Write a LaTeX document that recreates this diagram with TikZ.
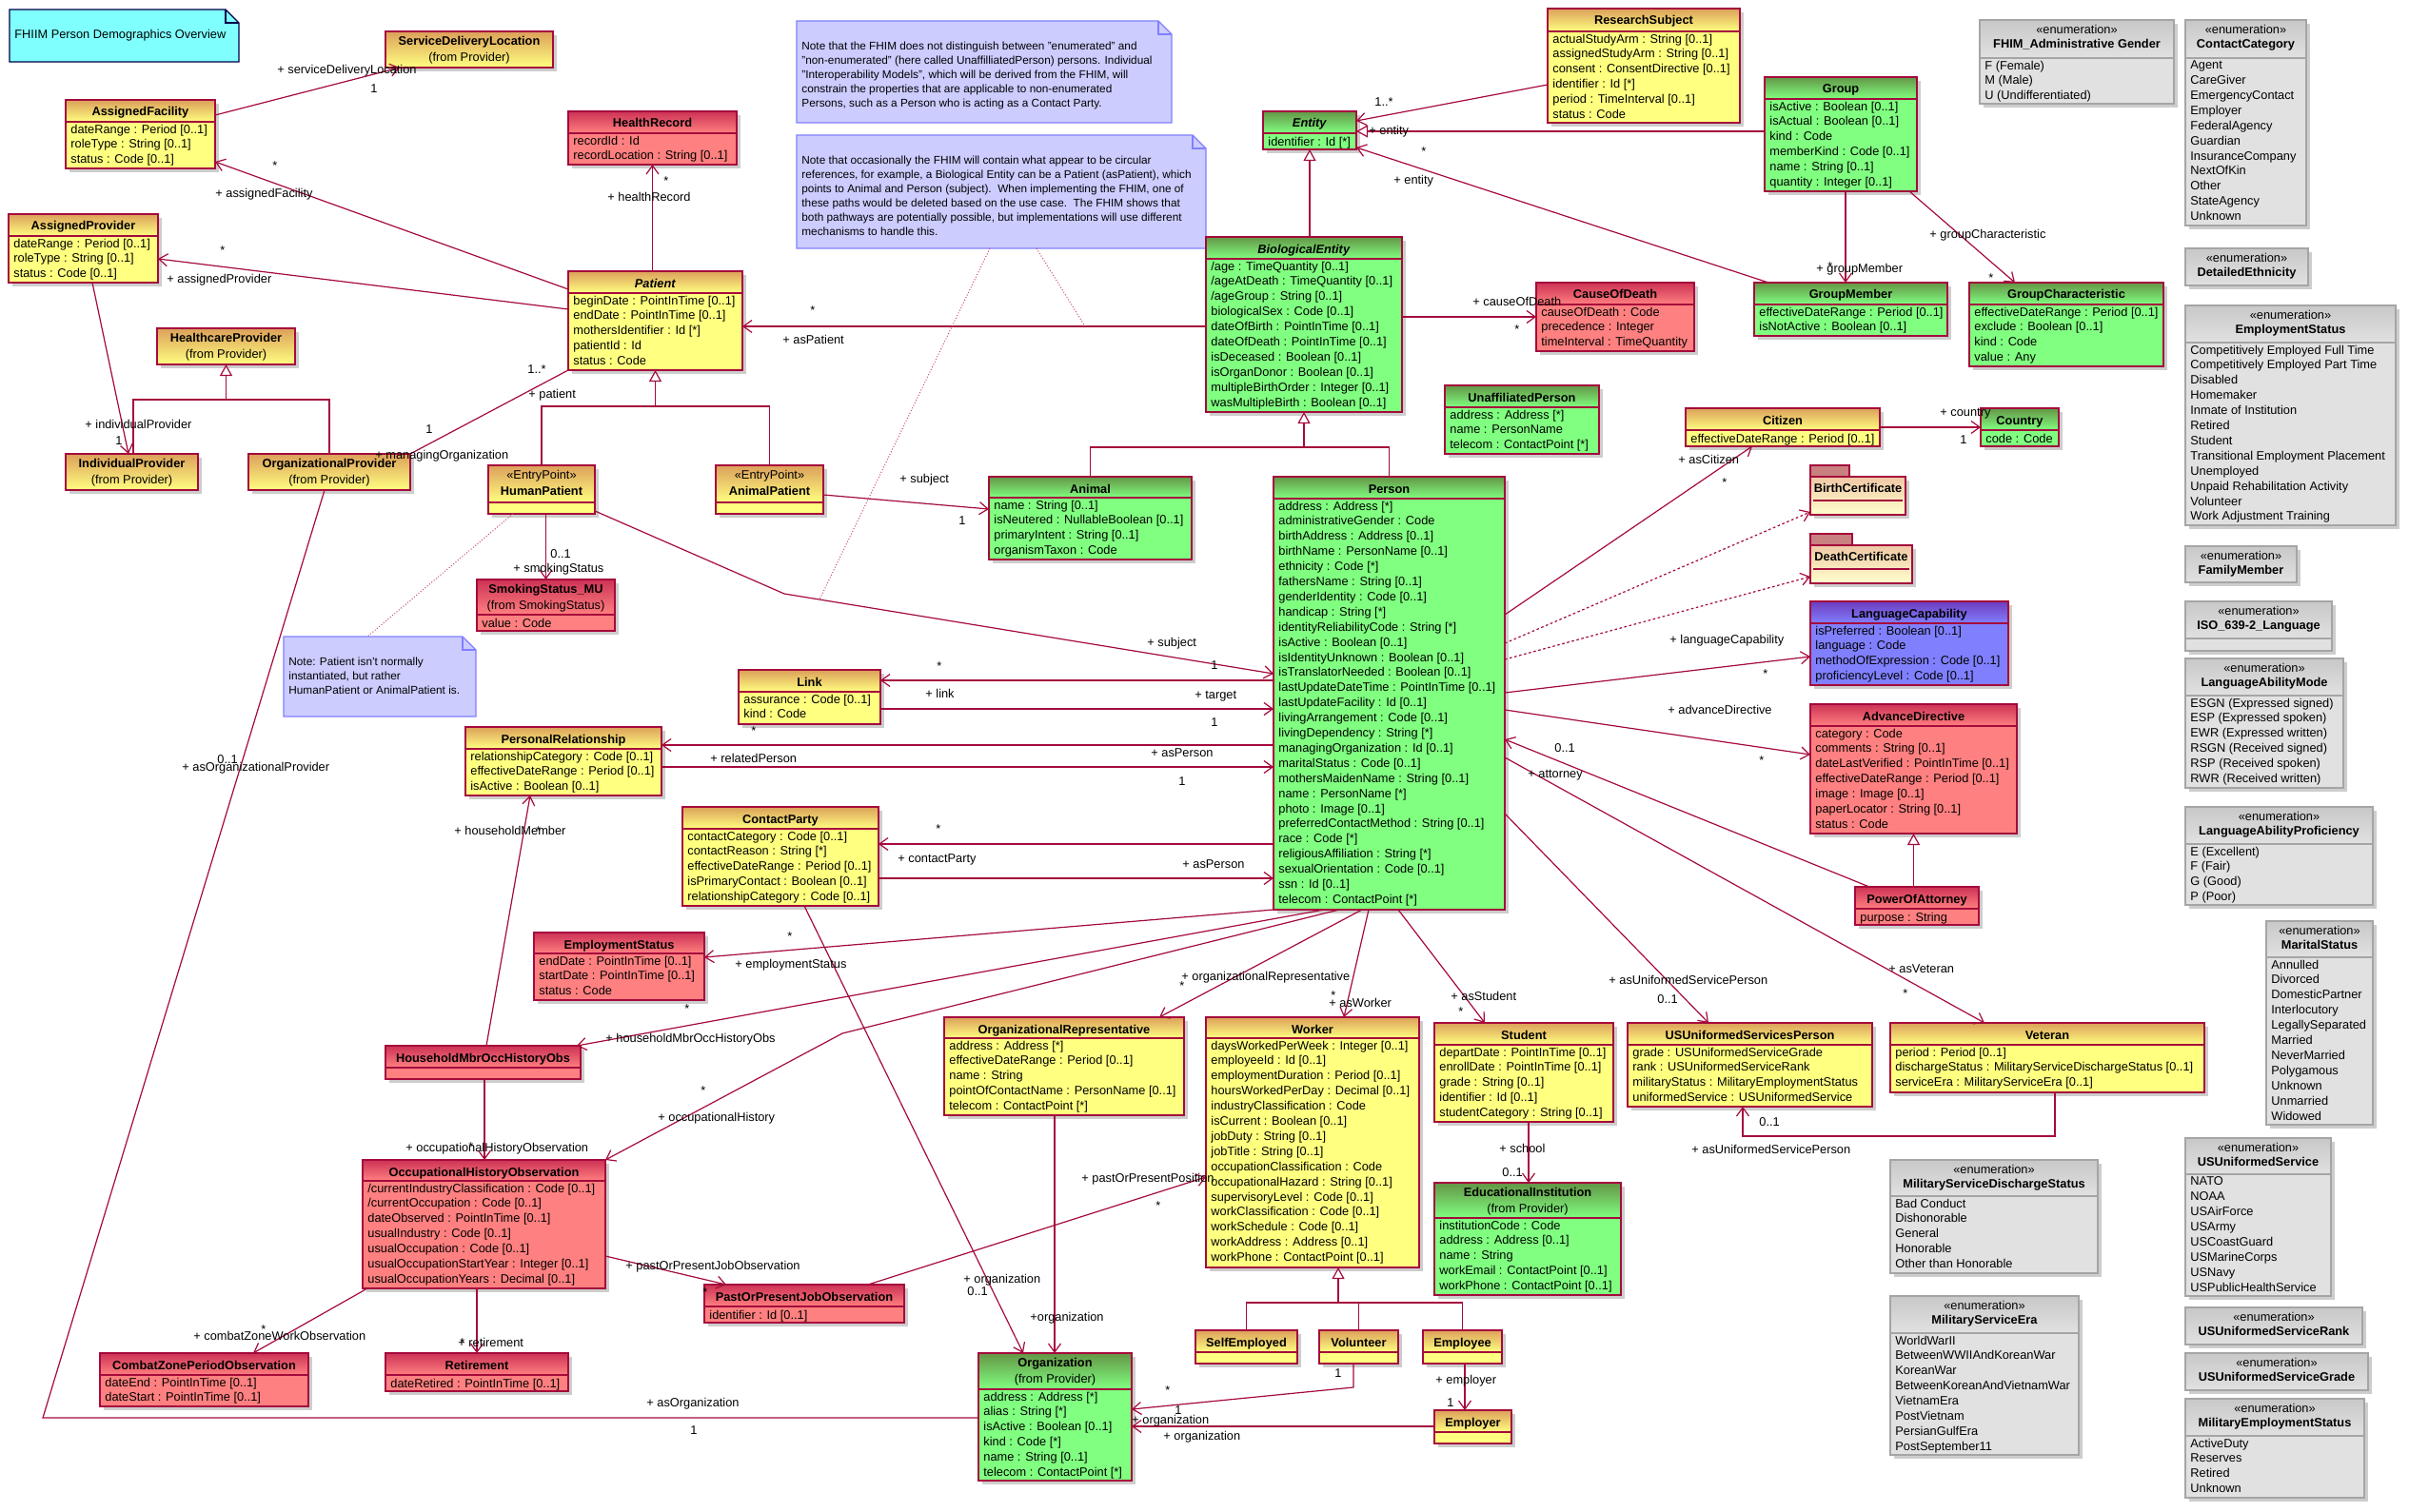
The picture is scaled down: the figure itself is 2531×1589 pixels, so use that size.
\documentclass[tikz,border=0pt]{standalone}
\usepackage{fontspec}
\setmainfont{Liberation Sans}
\usetikzlibrary{arrows.meta,calc}
\definecolor{lc}{RGB}{165,10,60}
\definecolor{shadowc}{RGB}{205,205,205}
\definecolor{Ytop}{RGB}{220,160,90}\definecolor{Ybody}{RGB}{255,255,128}\colorlet{Ybrd}{lc}
\definecolor{Gtop}{RGB}{100,150,70}\definecolor{Gbody}{RGB}{128,255,128}\colorlet{Gbrd}{lc}
\definecolor{Rtop}{RGB}{205,50,85}\definecolor{Rbody}{RGB}{255,128,128}\colorlet{Rbrd}{lc}
\definecolor{Btop}{RGB}{110,60,190}\definecolor{Bbody}{RGB}{128,128,255}\colorlet{Bbrd}{lc}
\definecolor{Etop}{RGB}{200,200,200}\definecolor{Ebody}{RGB}{225,225,225}\definecolor{Ebrd}{RGB}{165,165,165}
\definecolor{notefill}{RGB}{204,204,255}\definecolor{notebrd}{RGB}{128,128,255}
\definecolor{titlefill}{RGB}{128,255,255}\definecolor{titlebrd}{RGB}{0,0,70}
\definecolor{notelc}{RGB}{200,70,110}
\definecolor{tabc}{RGB}{200,128,128}\definecolor{certtop}{RGB}{240,200,165}\definecolor{certbot}{RGB}{255,255,205}
\newcounter{lblc}
\newcommand\umlc[9]{%
  \fill[shadowc] (#2+4,#3+4) rectangle (#2+#4+4,#3+#5+4);
  \node[inner sep=0pt,outer sep=0pt,minimum width=#4*0.5pt,minimum height=#5*0.5pt,anchor=north west,fill=#7body] (#1) at (#2,#3) {};
  \shade[top color=#7top,bottom color=#7body] (#1.north west) rectangle ($(#1.north west)+(#4,#6)$);
  \draw[#7brd,line width=0.6pt] ($(#1.north west)+(0,#6)$) -- ++(#4,0);
  \draw[#7brd,line width=0.7pt] (#1.north west) rectangle (#1.south east);
  \node[ttl,anchor=north] (#1-t) at ($(#1.north)+(0,4.7)$) {#8};
  \node[atr,anchor=north west] (#1-a) at ($(#1.north west)+(5,#6+2.4)$) {#9};
}
\newcommand\umlnote[6]{%
  \node[inner sep=0pt,outer sep=0pt,minimum width=#4*0.5pt,minimum height=#5*0.5pt,anchor=north west] (#1) at (#2,#3) {};
  \filldraw[fill=notefill,draw=notebrd,line width=0.6pt] (#1.north west) -- ($(#1.north east)+(-14,0)$) -- ($(#1.north east)+(0,14)$) -- (#1.south east) -- (#1.south west) -- cycle;
  \draw[notebrd,line width=0.6pt] ($(#1.north east)+(-14,0)$) -- ($(#1.north east)+(-14,14)$) -- ($(#1.north east)+(0,14)$);
  \node[notetxt,anchor=north west] (#1-x) at ($(#1.north west)+(5,22.0)$) {#6};
}
\newcommand\lab[3]{\stepcounter{lblc}\node[lbl] (lbl\arabic{lblc}) at (#1,#2+4.6) {#3};}
\begin{document}
\begin{tikzpicture}[x=0.5pt,y=-0.5pt,
  ttl/.style={font=\fontsize{6.4}{8.5}\selectfont,align=center,inner sep=0pt,execute at begin node=\strut},
  atr/.style={font=\fontsize{6.4}{7.95}\selectfont,align=left,inner sep=0pt,execute at begin node=\strut},
  notetxt/.style={font=\fontsize{5.9}{7.5}\selectfont,align=left,inner sep=0pt,execute at begin node=\strut},
  lbl/.style={font=\fontsize{6.4}{8}\selectfont,inner sep=0pt,anchor=base west},
  conn/.style={draw=lc,line width=0.6pt},
  nav/.style={conn,-{Straight Barb[length=4.5pt,width=6.5pt]}},
  gen/.style={conn,-{Triangle[open,length=6pt,width=6.5pt,fill=white]}},
  dep/.style={nav,dash pattern=on 1.3pt off 1.3pt},
  notelink/.style={draw=notelc,line width=0.5pt,densely dotted}]
\fill[white] (0,0) rectangle (2531,1589);
\useasboundingbox (0,0) rectangle (2531,1589);

% title note
\node[inner sep=0pt,outer sep=0pt,minimum width=241*0.5pt,minimum height=55*0.5pt,anchor=north west] (ttlnote) at (10,10) {};
\filldraw[fill=titlefill,draw=titlebrd,line width=0.6pt] (ttlnote.north west) -- ($(ttlnote.north east)+(-14,0)$) -- ($(ttlnote.north east)+(0,14)$) -- (ttlnote.south east) -- (ttlnote.south west) -- cycle;
\draw[titlebrd,line width=0.6pt] ($(ttlnote.north east)+(-14,0)$) -- ($(ttlnote.north east)+(-14,14)$) -- ($(ttlnote.north east)+(0,14)$);
\node[lbl] (ttltext) at (15,40.6) {FHIIM Person Demographics Overview};

% notes
\umlnote{n1}{837}{22}{394}{107}{Note that the FHIM does not distinguish between "enumerated" and\\"non-enumerated" (here called UnaffilliatedPerson) persons. Individual\\"Interoperability Models", which will be derived from the FHIM, will\\constrain the properties that are applicable to non-enumerated\\Persons, such as a Person who is acting as a Contact Party.}
\umlnote{n2}{837}{142}{430}{119}{Note that occasionally the FHIM will contain what appear to be circular\\references, for example, a Biological Entity can be a Patient (asPatient), which\\points to Animal and Person (subject).\ \ When implementing the FHIM, one of\\these paths would be deleted based on the use case.\ \ The FHIM shows that\\both pathways are potentially possible, but implementations will use different\\mechanisms to handle this.}
\umlnote{n3}{298}{669}{202}{84}{Note: Patient isn't normally\\instantiated, but rather\\HumanPatient or AnimalPatient is.}

% yellow classes
\umlc{sdl}{405}{33}{176}{38}{38}{Y}{\textbf{ServiceDeliveryLocation}\\(from Provider)}{}
\umlc{af}{69}{105}{157}{72}{23}{Y}{\textbf{AssignedFacility}}{dateRange : Period [0..1]\\roleType : String [0..1]\\status : Code [0..1]}
\umlc{ap}{9}{225}{157}{72}{23}{Y}{\textbf{AssignedProvider}}{dateRange : Period [0..1]\\roleType : String [0..1]\\status : Code [0..1]}
\umlc{hcp}{165}{345}{145}{38}{38}{Y}{\textbf{HealthcareProvider}\\(from Provider)}{}
\umlc{ip}{69}{477}{139}{38}{38}{Y}{\textbf{IndividualProvider}\\(from Provider)}{}
\umlc{op}{261}{477}{170}{38}{38}{Y}{\textbf{OrganizationalProvider}\\(from Provider)}{}
\umlc{hp}{513}{489}{112}{51}{39}{Y}{«EntryPoint»\\\textbf{HumanPatient}}{}
\umlc{pat}{597}{285}{183}{104}{23}{Y}{\textbf{\textit{Patient}}}{beginDate : PointInTime [0..1]\\endDate : PointInTime [0..1]\\mothersIdentifier : Id [*]\\patientId : Id\\status : Code}
\umlc{anp}{752}{489}{113}{51}{39}{Y}{«EntryPoint»\\\textbf{AnimalPatient}}{}
\umlc{rs}{1626}{9}{202}{120}{24}{Y}{\textbf{ResearchSubject}}{actualStudyArm : String [0..1]\\assignedStudyArm : String [0..1]\\consent : ConsentDirective [0..1]\\identifier : Id [*]\\period : TimeInterval [0..1]\\status : Code}
\umlc{cit}{1771}{429}{204}{40}{23}{Y}{\textbf{Citizen}}{effectiveDateRange : Period [0..1]}
\umlc{link}{776}{704}{149}{57}{23}{Y}{\textbf{Link}}{assurance : Code [0..1]\\kind : Code}
\umlc{pr}{489}{764}{206}{72}{23}{Y}{\textbf{PersonalRelationship}}{relationshipCategory : Code [0..1]\\effectiveDateRange : Period [0..1]\\isActive : Boolean [0..1]}
\umlc{cp}{717}{848}{206}{104}{23}{Y}{\textbf{ContactParty}}{contactCategory : Code [0..1]\\contactReason : String [*]\\effectiveDateRange : Period [0..1]\\isPrimaryContact : Boolean [0..1]\\relationshipCategory : Code [0..1]}
\umlc{orgrep}{992}{1069}{252}{103}{22}{Y}{\textbf{OrganizationalRepresentative}}{address : Address [*]\\effectiveDateRange : Period [0..1]\\name : String\\pointOfContactName : PersonName [0..1]\\telecom : ContactPoint [*]}
\umlc{worker}{1267}{1069}{224}{263}{22}{Y}{\textbf{Worker}}{daysWorkedPerWeek : Integer [0..1]\\employeeId : Id [0..1]\\employmentDuration : Period [0..1]\\hoursWorkedPerDay : Decimal [0..1]\\industryClassification : Code\\isCurrent : Boolean [0..1]\\jobDuty : String [0..1]\\jobTitle : String [0..1]\\occupationClassification : Code\\occupationalHazard : String [0..1]\\supervisoryLevel : Code [0..1]\\workClassification : Code [0..1]\\workSchedule : Code [0..1]\\workAddress : Address [0..1]\\workPhone : ContactPoint [0..1]}
\umlc{stu}{1507}{1075}{188}{104}{23}{Y}{\textbf{Student}}{departDate : PointInTime [0..1]\\enrollDate : PointInTime [0..1]\\grade : String [0..1]\\identifier : Id [0..1]\\studentCategory : String [0..1]}
\umlc{ususp}{1710}{1075}{257}{88}{23}{Y}{\textbf{USUniformedServicesPerson}}{grade : USUniformedServiceGrade\\rank : USUniformedServiceRank\\militaryStatus : MilitaryEmploymentStatus\\uniformedService : USUniformedService}
\umlc{vet}{1986}{1075}{330}{73}{23}{Y}{\textbf{Veteran}}{period : Period [0..1]\\dischargeStatus : MilitaryServiceDischargeStatus [0..1]\\serviceEra : MilitaryServiceEra [0..1]}
\umlc{selfe}{1256}{1398}{107}{35}{23}{Y}{\textbf{SelfEmployed}}{}
\umlc{vol}{1386}{1398}{83}{35}{23}{Y}{\textbf{Volunteer}}{}
\umlc{emp}{1495}{1398}{83}{35}{23}{Y}{\textbf{Employee}}{}
\umlc{empr}{1507}{1482}{81}{35}{23}{Y}{\textbf{Employer}}{}

% green classes
\umlc{ent}{1327}{117}{98}{40}{23}{G}{\textbf{\textit{Entity}}}{identifier : Id [*]}
\umlc{be}{1267}{249}{206}{184}{23}{G}{\textbf{\textit{BiologicalEntity}}}{/age : TimeQuantity [0..1]\\/ageAtDeath : TimeQuantity [0..1]\\/ageGroup : String [0..1]\\biologicalSex : Code [0..1]\\dateOfBirth : PointInTime [0..1]\\dateOfDeath : PointInTime [0..1]\\isDeceased : Boolean [0..1]\\isOrganDonor : Boolean [0..1]\\multipleBirthOrder : Integer [0..1]\\wasMultipleBirth : Boolean [0..1]}
\umlc{grp}{1854}{81}{160}{120}{23}{G}{\textbf{Group}}{isActive : Boolean [0..1]\\isActual : Boolean [0..1]\\kind : Code\\memberKind : Code [0..1]\\name : String [0..1]\\quantity : Integer [0..1]}
\umlc{gm}{1843}{297}{203}{56}{23}{G}{\textbf{GroupMember}}{effectiveDateRange : Period [0..1]\\isNotActive : Boolean [0..1]}
\umlc{gc}{2069}{297}{204}{88}{23}{G}{\textbf{GroupCharacteristic}}{effectiveDateRange : Period [0..1]\\exclude : Boolean [0..1]\\kind : Code\\value : Any}
\umlc{up}{1518}{405}{162}{72}{23}{G}{\textbf{UnaffiliatedPerson}}{address : Address [*]\\name : PersonName\\telecom : ContactPoint [*]}
\umlc{person}{1338}{501}{243}{455}{23}{G}{\textbf{Person}}{address : Address [*]\\administrativeGender : Code\\birthAddress : Address [0..1]\\birthName : PersonName [0..1]\\ethnicity : Code [*]\\fathersName : String [0..1]\\genderIdentity : Code [0..1]\\handicap : String [*]\\identityReliabilityCode : String [*]\\isActive : Boolean [0..1]\\isIdentityUnknown : Boolean [0..1]\\isTranslatorNeeded : Boolean [0..1]\\lastUpdateDateTime : PointInTime [0..1]\\lastUpdateFacility : Id [0..1]\\livingArrangement : Code [0..1]\\livingDependency : String [*]\\managingOrganization : Id [0..1]\\maritalStatus : Code [0..1]\\mothersMaidenName : String [0..1]\\name : PersonName [*]\\photo : Image [0..1]\\preferredContactMethod : String [0..1]\\race : Code [*]\\religiousAffiliation : String [*]\\sexualOrientation : Code [0..1]\\ssn : Id [0..1]\\telecom : ContactPoint [*]}
\umlc{animal}{1039}{501}{213}{87}{22}{G}{\textbf{Animal}}{name : String [0..1]\\isNeutered : NullableBoolean [0..1]\\primaryIntent : String [0..1]\\organismTaxon : Code}
\umlc{country}{2081}{429}{82}{40}{23}{G}{\textbf{Country}}{code : Code}
\umlc{org}{1028}{1422}{161}{134}{38}{G}{\textbf{Organization}\\(from Provider)}{address : Address [*]\\alias : String [*]\\isActive : Boolean [0..1]\\kind : Code [*]\\name : String [0..1]\\telecom : ContactPoint [*]}
\umlc{edu}{1507}{1243}{196}{118}{37}{G}{\textbf{EducationalInstitution}\\(from Provider)}{institutionCode : Code\\address : Address [0..1]\\name : String\\workEmail : ContactPoint [0..1]\\workPhone : ContactPoint [0..1]}

% red classes
\umlc{hr}{597}{117}{177}{56}{23}{R}{\textbf{HealthRecord}}{recordId : Id\\recordLocation : String [0..1]}
\umlc{cod}{1614}{297}{166}{72}{23}{R}{\textbf{CauseOfDeath}}{causeOfDeath : Code\\precedence : Integer\\timeInterval : TimeQuantity}
\umlc{smk}{501}{609}{145}{54}{37}{R}{\textbf{SmokingStatus\_MU}\\(from SmokingStatus)}{value : Code}
\umlc{ad}{1902}{740}{217}{136}{23}{R}{\textbf{AdvanceDirective}}{category : Code\\comments : String [0..1]\\dateLastVerified : PointInTime [0..1]\\effectiveDateRange : Period [0..1]\\image : Image [0..1]\\paperLocator : String [0..1]\\status : Code}
\umlc{poa}{1949}{932}{130}{40}{23}{R}{\textbf{PowerOfAttorney}}{purpose : String}
\umlc{es}{561}{980}{179}{71}{22}{R}{\textbf{EmploymentStatus}}{endDate : PointInTime [0..1]\\startDate : PointInTime [0..1]\\status : Code}
\umlc{hm}{405}{1099}{205}{35}{23}{R}{\textbf{HouseholdMbrOccHistoryObs}}{}
\umlc{oho}{381}{1219}{255}{135}{22}{R}{\textbf{OccupationalHistoryObservation}}{/currentIndustryClassification : Code [0..1]\\/currentOccupation : Code [0..1]\\dateObserved : PointInTime [0..1]\\usualIndustry : Code [0..1]\\usualOccupation : Code [0..1]\\usualOccupationStartYear : Integer [0..1]\\usualOccupationYears : Decimal [0..1]}
\umlc{cz}{105}{1422}{219}{56}{23}{R}{\textbf{CombatZonePeriodObservation}}{dateEnd : PointInTime [0..1]\\dateStart : PointInTime [0..1]}
\umlc{ret}{405}{1422}{192}{40}{23}{R}{\textbf{Retirement}}{dateRetired : PointInTime [0..1]}
\umlc{ppj}{740}{1350}{210}{40}{23}{R}{\textbf{PastOrPresentJobObservation}}{identifier : Id [0..1]}

% blue class
\umlc{lc}{1902}{632}{208}{88}{23}{B}{\textbf{LanguageCapability}}{isPreferred : Boolean [0..1]\\language : Code\\methodOfExpression : Code [0..1]\\proficiencyLevel : Code [0..1]}

% enumerations
\umlc{eg}{2080}{21}{204}{88}{40}{E}{«enumeration»\\[-1pt]\textbf{FHIM\_Administrative Gender}}{F (Female)\\M (Male)\\U (Undifferentiated)}
\umlc{ecc}{2296}{21}{127}{216}{40}{E}{«enumeration»\\[-1pt]\textbf{ContactCategory}}{Agent\\CareGiver\\EmergencyContact\\Employer\\FederalAgency\\Guardian\\InsuranceCompany\\NextOfKin\\Other\\StateAgency\\Unknown}
\umlc{ede}{2296}{261}{129}{39}{39}{E}{«enumeration»\\[-1pt]\textbf{DetailedEthnicity}}{}
\umlc{ees}{2296}{321}{221}{231}{39}{E}{«enumeration»\\[-1pt]\textbf{EmploymentStatus}}{Competitively Employed Full Time\\Competitively Employed Part Time\\Disabled\\Homemaker\\Inmate of Institution\\Retired\\Student\\Transitional Employment Placement\\Unemployed\\Unpaid Rehabilitation Activity\\Volunteer\\Work Adjustment Training}
\umlc{efm}{2296}{574}{117}{38}{38}{E}{«enumeration»\\[-1pt]\textbf{FamilyMember}}{}
\umlc{eiso}{2296}{632}{154}{52}{39}{E}{«enumeration»\\[-1pt]\textbf{ISO\_639-2\_Language}}{}
\umlc{elam}{2296}{692}{166}{136}{39}{E}{«enumeration»\\[-1pt]\textbf{LanguageAbilityMode}}{ESGN (Expressed signed)\\ESP (Expressed spoken)\\EWR (Expressed written)\\RSGN (Received signed)\\RSP (Received spoken)\\RWR (Received written)}
\umlc{elap}{2296}{848}{197}{103}{39}{E}{«enumeration»\\[-1pt]\textbf{LanguageAbilityProficiency}}{E (Excellent)\\F (Fair)\\G (Good)\\P (Poor)}
\umlc{ems}{2381}{968}{112}{214}{38}{E}{«enumeration»\\[-1pt]\textbf{MaritalStatus}}{Annulled\\Divorced\\DomesticPartner\\Interlocutory\\LegallySeparated\\Married\\NeverMarried\\Polygamous\\Unknown\\Unmarried\\Widowed}
\umlc{eus}{2296}{1196}{153}{166}{38}{E}{«enumeration»\\[-1pt]\textbf{USUniformedService}}{NATO\\NOAA\\USAirForce\\USArmy\\USCoastGuard\\USMarineCorps\\USNavy\\USPublicHealthService}
\umlc{eur}{2296}{1374}{186}{39}{39}{E}{«enumeration»\\[-1pt]\textbf{USUniformedServiceRank}}{}
\umlc{eug}{2296}{1422}{192}{39}{39}{E}{«enumeration»\\[-1pt]\textbf{USUniformedServiceGrade}}{}
\umlc{emes}{2296}{1470}{188}{104}{39}{E}{«enumeration»\\[-1pt]\textbf{MilitaryEmploymentStatus}}{ActiveDuty\\Reserves\\Retired\\Unknown}
\umlc{emdis}{1986}{1219}{218}{119}{38}{E}{«enumeration»\\[-1pt]\textbf{MilitaryServiceDischargeStatus}}{Bad Conduct\\Dishonorable\\General\\Honorable\\Other than Honorable}
\umlc{emera}{1986}{1362}{198}{167}{39}{E}{«enumeration»\\[-1pt]\textbf{MilitaryServiceEra}}{WorldWarII\\BetweenWWIIAndKoreanWar\\KoreanWar\\BetweenKoreanAndVietnamWar\\VietnamEra\\PostVietnam\\PersianGulfEra\\PostSeptember11}

% certificates
\fill[shadowc] (1906,505) rectangle (2006,545);
\filldraw[fill=tabc,draw=lc,line width=0.6pt] (1902,489) rectangle (1943,501);
\node[inner sep=0pt,outer sep=0pt,minimum width=100*0.5pt,minimum height=40*0.5pt,anchor=north west] (bc) at (1902,501) {};
\shade[top color=certtop,bottom color=certbot] (bc.north west) rectangle (bc.south east);
\draw[lc,line width=0.7pt] (bc.north west) rectangle (bc.south east);
\node[ttl,anchor=north] (bc-t) at ($(bc.north)+(0,4.2)$) {\textbf{BirthCertificate}};
\draw[lc,line width=0.6pt] ($(bc.north west)+(3,25)$) -- ($(bc.north east)+(-3,25)$);
\fill[shadowc] (1906,577) rectangle (2013,617);
\filldraw[fill=tabc,draw=lc,line width=0.6pt] (1902,561) rectangle (1946,573);
\node[inner sep=0pt,outer sep=0pt,minimum width=107*0.5pt,minimum height=40*0.5pt,anchor=north west] (dc) at (1902,573) {};
\shade[top color=certtop,bottom color=certbot] (dc.north west) rectangle (dc.south east);
\draw[lc,line width=0.7pt] (dc.north west) rectangle (dc.south east);
\node[ttl,anchor=north] (dc-t) at ($(dc.north)+(0,4.2)$) {\textbf{DeathCertificate}};
\draw[lc,line width=0.6pt] ($(dc.north west)+(3,25)$) -- ($(dc.north east)+(-3,25)$);

% junctions and free points
\coordinate (g1) at (hcp.south |- 0,420);
\coordinate (g2) at (pat.south |- 0,427);
\coordinate (g3) at (be.south |- 0,470);
\coordinate (g4) at (1406,1369);
\coordinate (subjpt) at (861,630);
\coordinate (aspatpt) at (1140,343);

% connectors
\draw[nav] (af.east |- 0,121) -- (sdl.south -| 420,0);
\draw[nav] (pat.west |- 0,304) -- (af.east |- 0,170);
\draw[nav] (pat.west |- 0,325) -- (ap.east |- 0,272);
\draw[nav] (ap.south -| 97,0) -- (ip.north -| 135,0);
\draw[conn] (ip.north -| 140,0) |- (g1) -| (op.north);
\draw[gen] (g1) -- (hcp.south);
\draw[conn] (pat.south west) -- (op.north east);
\draw[conn] (hp.north) |- (g2) -| (anp.north);
\draw[gen] (g2) -- (pat.south);
\draw[nav] (pat.north -| hr.south) -- (hr.south);
\draw[nav] (be.west |- 0,343) -- (pat.east |- 0,343);
\draw[gen] (be.north -| ent.south) -- (ent.south);
\draw[nav] (rs.west |- 0,89) -- (ent.east |- 0,127);
\draw[gen] (grp.west |- 0,138) -- (ent.east |- 0,138);
\draw[nav] (gm.north -| 1858,0) -- (ent.east |- 0,155);
\draw[nav] (grp.south -| 1939,0) -- (gm.north -| 1939,0);
\draw[nav] (grp.south -| 2006,0) -- (gc.north -| 2117,0);
\draw[nav] (be.east |- 0,333) -- (cod.west |- 0,333);
\draw[conn] (animal.north) |- (g3) -| (person.north);
\draw[gen] (g3) -- (be.south);
\draw[nav] (anp.east |- 0,520) -- (animal.west |- 0,535);
\draw[nav] (hp.east |- 0,537) -- (824,624) -- (person.west |- 0,708);
\draw[notelink] (n2.south -| 1040,0) -- (subjpt);
\draw[notelink] (n2.south -| 1089,0) -- (aspatpt);
\draw[notelink] (hp.south -| 539,0) -- (n3.north -| 386,0);
\draw[nav] (hp.south -| smk.north) -- (smk.north);
\draw[nav] (person.west |- 0,715) -- (link.east |- 0,715);
\draw[nav] (link.east |- 0,745) -- (person.west |- 0,745);
\draw[nav] (person.west |- 0,783) -- (pr.east |- 0,783);
\draw[nav] (pr.east |- 0,806) -- (person.west |- 0,806);
\draw[nav] (person.west |- 0,887) -- (cp.east |- 0,887);
\draw[nav] (cp.east |- 0,923) -- (person.west |- 0,923);
\draw[nav] (cp.south -| 845,0) -- (org.north -| 1075,0);
\draw[nav] (person.south west) -- (es.east |- 0,1006);
\draw[nav] (person.south -| 1391,0) -- (hm.north -| 606,0);
\draw[nav] (person.south -| 1407,0) -- (885,1086) -- (oho.north east);
\draw[nav] (person.south -| 1431,0) -- (orgrep.north -| 1218,0);
\draw[nav] (person.south -| 1438,0) -- (worker.north -| 1412,0);
\draw[nav] (person.south -| 1469,0) -- (stu.north -| 1560,0);
\draw[nav] (person.east |- 0,855) -- (ususp.north -| 1795,0);
\draw[nav] (person.east |- 0,796) -- (vet.north -| 2085,0);
\draw[nav] (poa.north -| 1964,0) -- (person.east |- 0,777);
\draw[nav] (person.east |- 0,746) -- (ad.west |- 0,793);
\draw[nav] (person.east |- 0,728) -- (lc.west |- 0,690);
\draw[dep] (person.east |- 0,676) -- (bc.west |- 0,538);
\draw[dep] (person.east |- 0,693) -- (dc.west |- 0,606);
\draw[nav] (person.east |- 0,646) -- (cit.south -| 1841,0);
\draw[nav] (cit.east |- 0,449) -- (country.west |- 0,449);
\draw[gen] (poa.north -| ad.south) -- (ad.south);
\draw[nav] (vet.south -| 2159,0) -- ++(0,46) -| (ususp.south -| 1831,0);
\draw[nav] (stu.south -| 1606,0) -- (edu.north -| 1606,0);
\draw[conn] (selfe.north) |- (g4) -| (emp.north);
\draw[conn] (vol.north) -- (vol.north |- g4);
\draw[gen] (g4) -- (worker.south -| g4);
\draw[nav] (emp.south -| 1539,0) -- (empr.north -| 1539,0);
\draw[nav] (vol.south -| 1422,0) -- ++(0,25) -- (org.east |- 0,1481);
\draw[nav] (empr.west |- 0,1499) -- (org.east |- 0,1499);
\draw[nav] (orgrep.south -| 1108,0) -- (org.north -| 1108,0);
\draw[conn] (op.south -| 341,0) -- (45,1490) -- (org.west |- 0,1490);
\draw[nav] (hm.north -| 511,0) -- (pr.south -| 557,0);
\draw[nav] (hm.south -| 509,0) -- (oho.north -| 509,0);
\draw[nav] (oho.south -| 386,0) -- (cz.north -| 266,0);
\draw[nav] (oho.south -| 501,0) -- (ret.north -| 501,0);
\draw[nav] (oho.east |- 0,1320) -- (ppj.north -| 763,0);
\draw[nav] (ppj.north -| 912,0) -- (worker.west |- 0,1237);

% labels
\lab{291}{73}{+ serviceDeliveryLocation}
\lab{389}{93}{1}
\lab{286}{174}{*}
\lab{226}{203}{+ assignedFacility}
\lab{231}{263}{*}
\lab{175}{293}{+ assignedProvider}
\lab{89}{446}{+ individualProvider}
\lab{121}{463}{1}
\lab{554}{388}{1..*}
\lab{555}{414}{+ patient}
\lab{447}{451}{1}
\lab{394}{478}{+ managingOrganization}
\lab{851}{326}{*}
\lab{822}{357}{+ asPatient}
\lab{697}{190}{*}
\lab{638}{207}{+ healthRecord}
\lab{945}{503}{+ subject}
\lab{1007}{547}{1}
\lab{1444}{107}{1..*}
\lab{1438}{137}{+ entity}
\lab{1493}{159}{*}
\lab{1464}{189}{+ entity}
\lab{1547}{317}{+ causeOfDeath}
\lab{1591}{346}{*}
\lab{1763}{483}{+ asCitizen}
\lab{1809}{507}{*}
\lab{1908}{282}{+ groupMember}
\lab{1920}{280}{*}
\lab{2027}{246}{+ groupCharacteristic}
\lab{2089}{292}{*}
\lab{2038}{433}{+ country}
\lab{2059}{462}{1}
\lab{539}{597}{+ smokingStatus}
\lab{578}{582}{0..1}
\lab{191}{806}{+ asOrganizationalProvider}
\lab{228}{798}{0..1}
\lab{477}{873}{+ householdMember}
\lab{563}{873}{*}
\lab{1205}{675}{+ subject}
\lab{1272}{699}{1}
\lab{984}{700}{*}
\lab{972}{729}{+ link}
\lab{1255}{730}{+ target}
\lab{1272}{759}{1}
\lab{789}{768}{*}
\lab{746}{797}{+ relatedPerson}
\lab{1209}{791}{+ asPerson}
\lab{1238}{821}{1}
\lab{983}{871}{*}
\lab{943}{902}{+ contactParty}
\lab{1242}{908}{+ asPerson}
\lab{1012}{1344}{+ organization}
\lab{1016}{1357}{0..1}
\lab{827}{984}{*}
\lab{772}{1013}{+ employmentStatus}
\lab{719}{1060}{*}
\lab{636}{1091}{+ householdMbrOccHistoryObs}
\lab{736}{1146}{*}
\lab{691}{1174}{+ occupationalHistory}
\lab{1241}{1026}{+ organizationalRepresentative}
\lab{1239}{1036}{*}
\lab{1754}{672}{+ languageCapability}
\lab{1852}{708}{*}
\lab{1752}{746}{+ advanceDirective}
\lab{1848}{799}{*}
\lab{1633}{786}{0..1}
\lab{1605}{813}{+ attorney}
\lab{1690}{1030}{+ asUniformedServicePerson}
\lab{1741}{1050}{0..1}
\lab{1524}{1047}{+ asStudent}
\lab{1532}{1063}{*}
\lab{1396}{1054}{+ asWorker}
\lab{1398}{1046}{*}
\lab{1984}{1018}{+ asVeteran}
\lab{1999}{1044}{*}
\lab{426}{1206}{+ occupationalHistoryObservation}
\lab{492}{1205}{*}
\lab{203}{1404}{+ combatZoneWorkObservation}
\lab{274}{1397}{*}
\lab{481}{1411}{+ retirement}
\lab{483}{1411}{*}
\lab{657}{1330}{+ pastOrPresentJobObservation}
\lab{738}{1358}{*}
\lab{679}{1474}{+ asOrganization}
\lab{725}{1503}{1}
\lab{1136}{1238}{+ pastOrPresentPosition}
\lab{1214}{1267}{*}
\lab{1082}{1384}{+organization}
\lab{1224}{1461}{*}
\lab{1234}{1482}{1}
\lab{1189}{1492}{+ organization}
\lab{1222}{1509}{+ organization}
\lab{1402}{1443}{1}
\lab{1508}{1450}{+ employer}
\lab{1520}{1474}{1}
\lab{1575}{1207}{+ school}
\lab{1578}{1232}{0..1}
\lab{1848}{1179}{0..1}
\lab{1777}{1208}{+ asUniformedServicePerson}
\end{tikzpicture}
\end{document}
